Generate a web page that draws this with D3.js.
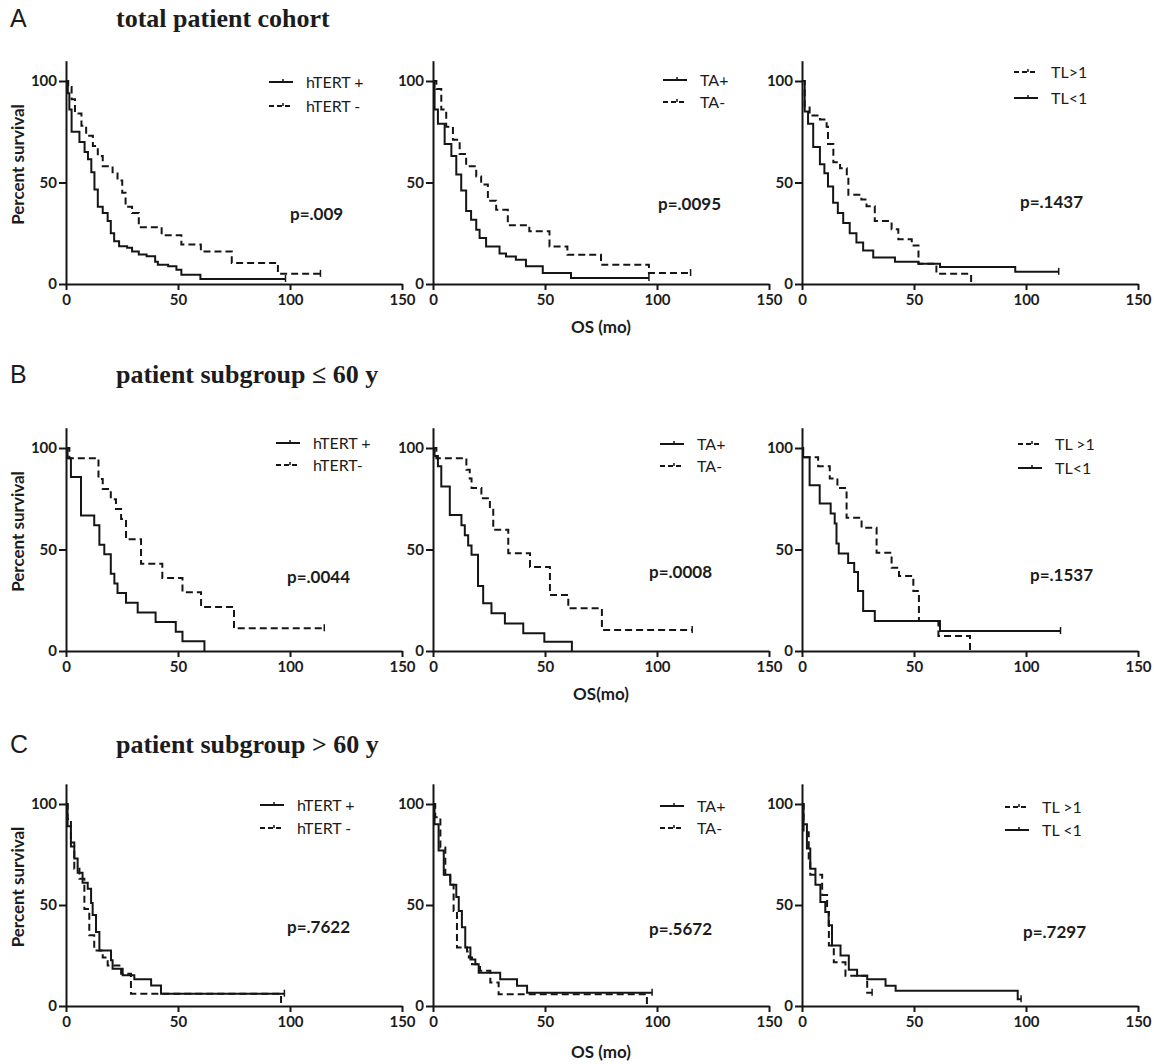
<!DOCTYPE html>
<html>
<head>
<meta charset="utf-8">
<script src="https://cdn.jsdelivr.net/npm/d3@7/dist/d3.min.js"></script>
<style>
  body { margin: 0; background: #fff; }
  text { font-family: Lato, "Open Sans", sans-serif; fill: #1c1c1c; }
</style>
</head>
<body>
<svg id="chart" width="1154" height="1064"></svg>
<script>
////// DATA  (time in months, percent survival after the step)

var xTicks = [0, 50, 100, 150];
var yTicks = [0, 50, 100];

// A: total patient cohort
var hTertPosAll = [[0,100],[0.8,94],[1.5,86],[2.5,75],[6,70],[8.3,65],[9.8,61.5],[11.3,55],[12.7,46.6],[14.2,38],[16.4,35],[18.6,31],[20,25],[21.5,21],[23.7,18.6],[27.3,17.8],[29.5,16],[32.5,14.5],[36,13.7],[39.8,11],[41,9.5],[45.6,8.7],[49.3,7],[51.5,4.6],[60,2.5],[98,2.5]];
var hTertNegAll = [[0,100],[1,97],[2.5,91],[4,84],[6.9,78],[9,73],[12,68],[14.2,63],[16.4,58],[20.8,55],[23,51],[25.1,45],[26.6,38],[29.5,35],[32.5,28],[42.7,24],[51.5,19.4],[60.2,16],[74,10.4],[94.6,5],[113.6,5]];
var taPosAll = [[0,100],[0.7,86],[2.2,79],[5.2,69],[8.2,63],[10.4,54],[12.6,46],[14.8,36],[17,31.6],[19.3,26.7],[20.8,22.6],[23.7,18.5],[29.7,15],[32.6,13.6],[37,12],[41.5,8.7],[49,5.4],[61.6,3],[96.4,3]];
var taNegAll = [[0,100],[1.5,96],[3.7,86],[5.9,77.5],[8.9,71],[11.9,64],[14.8,58],[19.3,53],[21.5,49],[24.5,41],[28.2,36.6],[33.4,29],[43,26],[52,18.5],[60,14.4],[75,9.5],[96.4,5.4],[115,5.4]];
var tlHighAll = [[0,100],[1.2,87],[3.4,83],[8,81],[11,77.5],[11.6,69],[14,60],[17,57],[20,53],[20.7,44],[26.5,41.6],[28.8,38.3],[32.5,31],[40,27],[43,22],[49,19],[52,10],[60,5],[75.5,0]];
var tlLowAll = [[0,100],[1.2,85],[2.7,79],[5,67.5],[8,59],[10,54.5],[11.6,48],[13.9,40],[16,35],[18.4,30],[21.3,25],[24.3,20.5],[27.3,16.5],[31.8,13],[41.5,11],[52,10],[61.6,8.4],[95.2,6],[114.6,6]];

// B: patient subgroup <= 60 y
var hTertPosYoung = [[0,100],[0.7,95],[2.2,85.7],[6.7,66.7],[12.6,61.9],[14.9,52.4],[17.1,47.6],[20,38.1],[21.6,33.3],[23,28.6],[26.8,23.8],[32,19],[40,14.3],[49,9.5],[52,4.8],[61.8,0]];
var hTertNegYoung = [[0,100],[1.5,95],[14.5,84.7],[16.4,79.8],[20,74.8],[22.3,70],[24.6,65],[26.8,55],[33.5,43],[43,36],[52,29],[60.3,21.7],[75,11.2],[115.3,11.2]];
var taPosYoung = [[0,100],[0.7,96],[2.2,91],[3.7,81],[7.5,67],[12.7,62],[14.2,57],[15.7,52],[17.2,47.4],[20.1,32],[22.4,23.5],[26.1,18.6],[32.1,13.6],[40.3,8.7],[49.7,4.6],[62,0]];
var taNegYoung = [[0,100],[1.5,95],[14.9,89.3],[16.4,85],[17.2,80.3],[21.6,75.3],[25.4,69.6],[26.9,59.7],[33.6,48.2],[43.3,41.4],[52.2,27.6],[60.4,21],[75.4,10.4],[115.7,10.4]];
var tlHighYoung = [[0,100],[0.5,95.4],[7.2,91],[12.4,85],[15.8,80.3],[19.9,65.6],[26.6,60.7],[33.3,48.4],[40,41],[43.3,37],[49.7,29.5],[52.2,14.8],[60.9,7.4],[75,0]];
var tlLowYoung = [[0,100],[0.5,95.4],[3.4,81.6],[7.9,72.6],[12.8,67.7],[14.6,62.8],[15.4,52.9],[16.4,48],[20.6,43.3],[23.3,38.9],[25,29.5],[27.3,19.7],[32.5,14.8],[61.6,9.8],[115.4,9.8]];

// C: patient subgroup > 60 y
var hTertPosOld = [[0,100],[0.7,89],[2.2,81],[3.7,73],[5.2,66],[7.4,61],[9.7,58],[11.2,51],[11.9,45],[13.4,36.6],[14.9,27.5],[20.1,22.6],[20.8,18.4],[25.3,15.2],[30.5,13.2],[38,10.2],[42.4,6.1],[97.5,6.1]];
var hTertNegOld = [[0,100],[0.7,92.6],[2.2,79],[3.7,68],[6,63],[8.2,48],[10.4,35],[12.6,27.5],[16.4,24],[18.6,20],[24.6,16],[29,6.1],[96,0]];
var taPosOld = [[0,100],[0.7,90],[2.5,77],[4.8,65],[7.7,60],[10.4,54],[11.5,47],[12.9,39],[14.4,29],[16.7,23],[18.9,20.7],[20.4,16.5],[30,13.2],[37.5,10],[42,6.6],[97.8,6.6]];
var taNegOld = [[0,100],[1,93.4],[3.3,78.5],[5.5,65],[7.7,60],[9.2,47],[10.7,29],[15.2,27],[16,24],[17.4,20.7],[21,17.4],[25.6,11.6],[29.3,5.8],[95.5,0]];
var tlHighOld = [[0,100],[0.7,86],[3,73],[3.7,65],[9,55],[11.2,46.5],[12,30],[14.2,21.6],[19.4,15],[29.1,6.6],[31.3,6.6]];
var tlLowOld = [[0,100],[0.7,90],[2.2,78],[3.7,68],[6,60],[8.2,51.5],[10.4,46.5],[11.9,40],[13.4,30],[17.2,25],[20.9,18],[24.6,15],[29.1,13.3],[37.3,10],[41.8,7.5],[96.3,3.3],[97.8,3.3]];

var rowTitles = ["total patient cohort", "patient subgroup \u2264 60 y", "patient subgroup > 60 y"];
var rowLetters = ["A", "B", "C"];
var xLabels = ["OS (mo)", "OS(mo)", "OS (mo)"];

////// LAYOUT

var svg = d3.select("#chart");
var plotW = 336;
var colX = [66, 433, 802];
var rows = [
  { y0: 284, y100: 81, titleY: 27, xLabY: 333 },
  { y0: 651, y100: 448, titleY: 383, xLabY: 700 },
  { y0: 1006, y100: 804, titleY: 753, xLabY: 1058 }
];

// one entry per panel: the two curves, legend order and position, p-value
var panels = [
  { r: 0, c: 0, a: hTertPosAll, b: hTertNegAll, la: "hTERT +", lb: "hTERT -", dashFirst: false, lx: 269, ly: [82, 106], p: "p=.009", px: 290, py: 220 },
  { r: 0, c: 1, a: taPosAll, b: taNegAll, la: "TA+", lb: "TA-", dashFirst: false, lx: 663, ly: [80, 102], p: "p=.0095", px: 658, py: 210 },
  { r: 0, c: 2, a: tlLowAll, b: tlHighAll, la: "TL<1", lb: "TL>1", dashFirst: true, lx: 1014, ly: [72, 98], p: "p=.1437", px: 1020, py: 208 },
  { r: 1, c: 0, a: hTertPosYoung, b: hTertNegYoung, la: "hTERT +", lb: "hTERT-", dashFirst: false, lx: 276, ly: [443, 465], p: "p=.0044", px: 287, py: 583 },
  { r: 1, c: 1, a: taPosYoung, b: taNegYoung, la: "TA+", lb: "TA-", dashFirst: false, lx: 660, ly: [444, 466], p: "p=.0008", px: 649, py: 578 },
  { r: 1, c: 2, a: tlLowYoung, b: tlHighYoung, la: "TL<1", lb: "TL >1", dashFirst: true, lx: 1018, ly: [444, 468], p: "p=.1537", px: 1030, py: 581 },
  { r: 2, c: 0, a: hTertPosOld, b: hTertNegOld, la: "hTERT +", lb: "hTERT -", dashFirst: false, lx: 260, ly: [805, 828], p: "p=.7622", px: 287, py: 933 },
  { r: 2, c: 1, a: taPosOld, b: taNegOld, la: "TA+", lb: "TA-", dashFirst: false, lx: 660, ly: [806, 828], p: "p=.5672", px: 649, py: 935 },
  { r: 2, c: 2, a: tlLowOld, b: tlHighOld, la: "TL <1", lb: "TL >1", dashFirst: true, lx: 1005, ly: [807, 830], p: "p=.7297", px: 1023, py: 938 }
];

var ink = "#151515";
var dash = "7,4";

// row headers
rows.forEach(function(row, i) {
  svg.append("text")
    .attr("x", 10).attr("y", row.titleY)
    .style("font-family", "'Liberation Sans', Arial, sans-serif")
    .style("font-size", "25px")
    .text(rowLetters[i]);

  svg.append("text")
    .attr("x", 116).attr("y", row.titleY)
    .style("font-family", "'Liberation Serif', 'Times New Roman', serif")
    .style("font-weight", "bold")
    .style("font-size", "26px")
    .text(rowTitles[i]);

  // y label on the left column only
  svg.append("text")
    .attr("transform", "translate(24," + ((row.y0 + row.y100) / 2 - 18) + ") rotate(-90)")
    .attr("text-anchor", "middle")
    .style("font-size", "17px")
    .style("font-weight", "bold")
    .text("Percent survival");

  svg.append("text")
    .attr("x", 601).attr("y", row.xLabY)
    .attr("text-anchor", "middle")
    .style("font-size", "17px")
    .style("font-weight", "bold")
    .text(xLabels[i]);
});

// one survival panel
var drawPanel = function(p) {
  var row = rows[p.r];
  var x0 = colX[p.c];
  var pxPerUnit = (row.y0 - row.y100) / 100;

  var x = d3.scaleLinear().domain([0, 150]).range([x0, x0 + plotW]);
  var y = d3.scaleLinear().domain([0, 110]).range([row.y0, row.y0 - 110 * pxPerUnit]);

  var g = svg.append("g");

  // axes
  var yAxis = g.append("g")
    .attr("transform", "translate(" + x0 + ",0)")
    .call(d3.axisLeft(y).tickValues(yTicks).tickSize(7).tickSizeOuter(0).tickPadding(2));
  var xAxis = g.append("g")
    .attr("transform", "translate(0," + row.y0 + ")")
    .call(d3.axisBottom(x).tickValues(xTicks).tickSize(6).tickSizeOuter(0).tickPadding(4));

  [yAxis, xAxis].forEach(function(ax) {
    ax.selectAll("path, line").attr("stroke", ink).attr("stroke-width", 2);
    ax.selectAll("text")
      .style("font-family", "Lato, sans-serif")
      .style("font-size", "15px")
      .style("font-weight", "bold")
      .attr("fill", ink);
  });

  var line = d3.line()
    .x(function(d) { return x(d[0]); })
    .y(function(d) { return y(d[1]); })
    .curve(d3.curveStepAfter);

  // solid curve (a) and dashed curve (b)
  [[p.a, null], [p.b, dash]].forEach(function(s) {
    var data = s[0];
    g.append("path")
      .attr("d", line(data))
      .attr("fill", "none")
      .attr("stroke", ink)
      .attr("stroke-width", 2)
      .attr("stroke-dasharray", s[1]);

    // censor tick at the end of the curve
    var last = data[data.length - 1];
    if (last[1] > 0) {
      g.append("line")
        .attr("x1", x(last[0])).attr("x2", x(last[0]))
        .attr("y1", y(last[1]) - 4).attr("y2", y(last[1]) + 3)
        .attr("stroke", ink).attr("stroke-width", 1.5);
    }
  });

  // legend
  var entries = [[p.la, null], [p.lb, dash]];
  if (p.dashFirst) entries.reverse();
  entries.forEach(function(e, i) {
    var ly = p.ly[i];
    g.append("line")
      .attr("x1", p.lx).attr("x2", p.lx + 24)
      .attr("y1", ly).attr("y2", ly)
      .attr("stroke", ink).attr("stroke-width", 2)
      .attr("stroke-dasharray", e[1] ? "5,3" : null);
    g.append("line")
      .attr("x1", p.lx + 14).attr("x2", p.lx + 14)
      .attr("y1", ly - 3).attr("y2", ly)
      .attr("stroke", ink).attr("stroke-width", 1.5);
    g.append("text")
      .attr("x", p.lx + 37).attr("y", ly + 6)
      .style("font-size", "16px")
      .text(e[0]);
  });

  // p value
  g.append("text")
    .attr("x", p.px).attr("y", p.py)
    .style("font-size", "17px")
    .style("font-weight", "bold")
    .text(p.p);
};

panels.forEach(drawPanel);
</script>
</body>
</html>
